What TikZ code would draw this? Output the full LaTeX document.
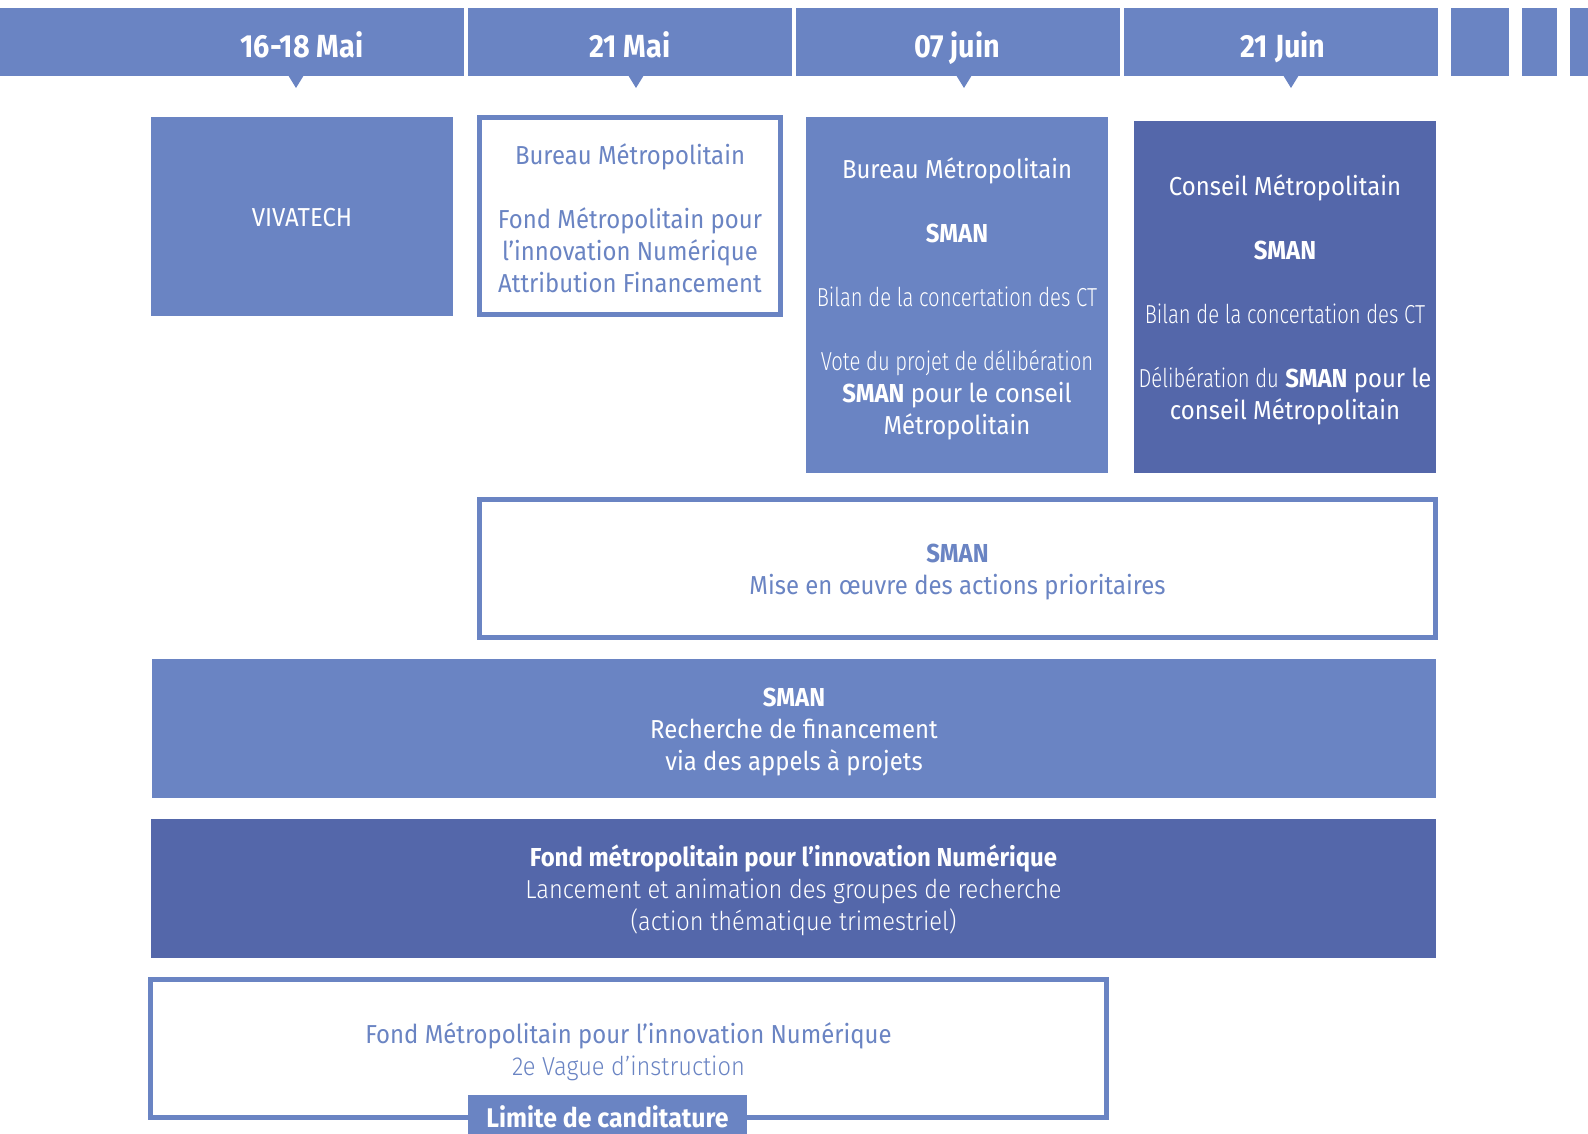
\documentclass[tikz,border=0pt]{standalone}
\usepackage{fontspec}
\setmainfont{Fira Sans}[FakeStretch=0.92]
\newfontfamily\headfont{Fira Sans}[FakeStretch=0.9]
\newfontfamily\lightcond{Fira Sans Light}[FakeStretch=0.78]
\newfontfamily\lightreg{Fira Sans Light}[FakeStretch=0.91]

\definecolor{midblue}{HTML}{6A84C3}
\definecolor{deepblue}{HTML}{5467AA}

\tikzset{
  seg/.style={fill=midblue, draw=none, inner sep=0pt, minimum height=68pt},
  datelabel/.style={anchor=base, text=white, inner sep=0pt,
    font=\headfont\fontsize{32}{36}\selectfont\bfseries},
  pointer/.style={fill=midblue, draw=none},
  solidbox/.style={fill=midblue, draw=none, inner sep=0pt},
  darkbox/.style={solidbox, fill=deepblue},
  framebox/.style={fill=white, draw=midblue, line width=5pt, inner sep=0pt},
  boxtext/.style={inner sep=0pt, align=center, font=\fontsize{26}{32}\selectfont},
  whitetext/.style={boxtext, text=white},
  bluetext/.style={boxtext, text=midblue},
  tagbox/.style={fill=midblue, draw=none, inner sep=0pt, text=white,
    font=\fontsize{27}{32}\selectfont\bfseries},
}

\begin{document}
\begin{tikzpicture}[x=1pt, y=-1pt]
\useasboundingbox (0,0) rectangle (1588,1133);

% timeline band
\node[seg, minimum width=464pt] (s1) at (232,42) {};
\node[seg, minimum width=324pt] (s2) at (630,42) {};
\node[seg, minimum width=324pt] (s3) at (958,42) {};
\node[seg, minimum width=314pt] (s4) at (1281,42) {};
\node[seg, minimum width=58pt]  (s5) at (1480,42) {};
\node[seg, minimum width=35pt]  (s6) at (1539.5,42) {};
\node[seg, minimum width=18pt]  (s7) at (1579,42) {};

\node[datelabel] (d1) at (302,57) {16-18 Mai};
\node[datelabel] (d2) at (630,57) {21 Mai};
\node[datelabel] (d3) at (957,57) {07 juin};
\node[datelabel] (d4) at (1283,57) {21 Juin};

% small pointers under the dates
\foreach \px in {296,636,964,1291}
  \fill[pointer] (\px-8,75) -- (\px+8,75) -- (\px,88) -- cycle;

% first row of events
\node[solidbox, minimum width=302pt, minimum height=199pt] (viva) at (302,216.5) {};
\node[whitetext] (viva-t) at ([yshift=-1pt]viva.center) {VIVATECH};

\node[framebox, minimum width=301pt, minimum height=197pt] (bureau1) at (630,216) {};
\node[bluetext] (bureau1-t) at ([yshift=-2pt]bureau1.center) {%
  Bureau Métropolitain\\[32pt]
  Fond Métropolitain pour\\
  l’innovation Numérique\\
  Attribution Financement};

\node[solidbox, minimum width=302pt, minimum height=356pt] (bureau2) at (957,295) {};
\node[whitetext] (bureau2-t) at ([yshift=-4pt]bureau2.center) {%
  Bureau Métropolitain\\[32pt]
  \textbf{SMAN}\\[32pt]
  {\lightcond Bilan de la concertation des CT}\\[32pt]
  {\lightcond Vote du projet de délibération}\\
  \textbf{SMAN} pour le conseil\\
  Métropolitain};

\node[darkbox, minimum width=302pt, minimum height=352pt] (conseil) at (1285,297) {};
\node[whitetext] (conseil-t) at ([yshift=-3pt]conseil.center) {%
  Conseil Métropolitain\\[32pt]
  \textbf{SMAN}\\[32pt]
  {\lightcond Bilan de la concertation des CT}\\[32pt]
  {\lightcond Délibération du} \textbf{SMAN} pour le\\
  conseil Métropolitain};

% long-running actions
\node[framebox, minimum width=956pt, minimum height=138pt] (actions) at (957.5,568.5) {};
\node[bluetext] (actions-t) at ([yshift=-4pt]actions.center) {%
  \textbf{SMAN}\\
  Mise en œuvre des actions prioritaires};

\node[solidbox, minimum width=1284pt, minimum height=139pt] (recherche) at (794,728.5) {};
\node[whitetext] (recherche-t) at ([yshift=-4pt]recherche.center) {%
  \textbf{SMAN}\\
  Recherche de financement\\
  via des appels à projets};

\node[darkbox, minimum width=1285pt, minimum height=139pt] (fonds) at (793.5,888.5) {};
\node[whitetext] (fonds-t) at ([yshift=-2pt]fonds.center) {%
  \textbf{Fond métropolitain pour l’innovation Numérique}\\
  {\lightreg Lancement et animation des groupes de recherche}\\
  {\lightreg (action thématique trimestriel)}};

\node[framebox, minimum width=956pt, minimum height=138pt] (vague) at (628.5,1048.5) {};
\node[bluetext] (vague-t) at ([yshift=-3pt]vague.center) {%
  Fond Métropolitain pour l’innovation Numérique\\
  {\lightreg 2e Vague d’instruction}};

\node[tagbox, minimum width=279pt, minimum height=44pt] (limite) at (607.5,1117) {Limite de canditature};

\end{tikzpicture}
\end{document}
